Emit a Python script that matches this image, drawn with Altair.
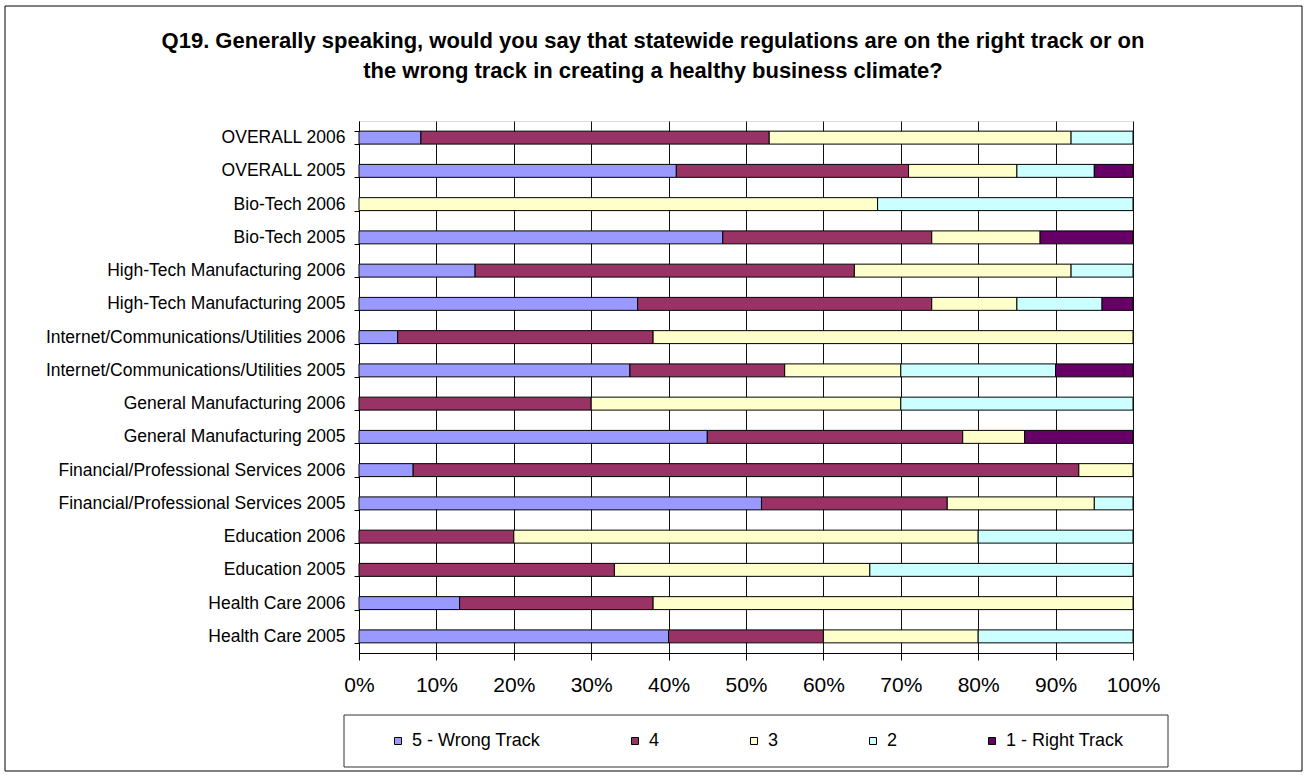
import altair as alt
import pandas as pd

categories = [
    "OVERALL 2006", "OVERALL 2005", "Bio-Tech 2006", "Bio-Tech 2005",
    "High-Tech Manufacturing 2006", "High-Tech Manufacturing 2005",
    "Internet/Communications/Utilities 2006", "Internet/Communications/Utilities 2005",
    "General Manufacturing 2006", "General Manufacturing 2005",
    "Financial/Professional Services 2006", "Financial/Professional Services 2005",
    "Education 2006", "Education 2005", "Health Care  2006", "Health Care 2005",
]
series_names = ["5 - Wrong Track", "4", "3", "2", "1 - Right Track"]
series_colors = ["#9999FF", "#993366", "#FFFFCC", "#CCFFFF", "#660066"]

wrong_track_5 = [8, 41, 0, 47, 15, 36, 5, 35, 0, 45, 7, 52, 0, 0, 13, 40]
rating_4 = [45, 30, 0, 27, 49, 38, 33, 20, 30, 33, 86, 24, 20, 33, 25, 20]
rating_3 = [39, 14, 67, 14, 28, 11, 62, 15, 40, 8, 7, 19, 60, 33, 62, 20]
rating_2 = [8, 10, 33, 0, 8, 11, 0, 20, 30, 0, 0, 5, 20, 34, 0, 20]
right_track_1 = [0, 5, 0, 12, 0, 4, 0, 10, 0, 14, 0, 0, 0, 0, 0, 0]

x_ticks = [0, 0.1, 0.2, 0.3, 0.4, 0.5, 0.6, 0.7, 0.8, 0.9, 1.0]
title_lines = [
    "Q19. Generally speaking, would you say that statewide regulations are on the right track or on",
    "the wrong track in creating a healthy business climate?",
]

FONT = "Liberation Sans"

rows = []
for idx, (name, vals) in enumerate(zip(series_names, [wrong_track_5, rating_4, rating_3, rating_2, right_track_1])):
    for cat, v in zip(categories, vals):
        rows.append({"category": cat, "series": name, "order": idx, "value": v / 100.0})
df = pd.DataFrame(rows)

bars = alt.Chart(df).transform_filter("datum.value > 0").mark_bar(
    stroke="black", strokeWidth=1
).encode(
    y=alt.Y(
        "category:N", sort=categories, title=None,
        scale=alt.Scale(paddingInner=0.61, paddingOuter=0.305),
        axis=alt.Axis(
            tickBand="extent", tickSize=5, labelPadding=9, labelFontSize=17.5,
            labelFont=FONT, labelColor="black", domainColor="black",
            tickColor="black", labelLimit=600, domainWidth=1,
        ),
    ),
    x=alt.X(
        "value:Q", stack="zero", title=None,
        scale=alt.Scale(domain=[0, 1], nice=False),
        axis=alt.Axis(
            format="%", values=x_ticks, grid=True, gridColor="#111111",
            gridWidth=1, tickSize=7, labelFontSize=21, labelFont=FONT,
            labelColor="black", labelPadding=14, labelFlush=False,
            labelOverlap=False, domainColor="black", tickColor="black",
        ),
    ),
    color=alt.Color(
        "series:N", title=None,
        scale=alt.Scale(domain=series_names, range=series_colors),
        legend=alt.Legend(
            orient="none", legendX=30, legendY=611, direction="horizontal",
            columns=5, gridAlign="each", columnPadding=85,
            symbolType="square", symbolSize=49, symbolStrokeColor="black",
            symbolStrokeWidth=1, labelFontSize=18, labelFont=FONT,
            labelColor="black", labelOffset=5, padding=0,
            labelExpr="datum.label == '5 - Wrong Track' ? datum.label + ' ' : datum.label",
        ),
    ),
    order=alt.Order("order:Q"),
)

frame = alt.Chart(alt.Data(values=[{}])).mark_rect(
    fillOpacity=0, stroke="black", strokeWidth=1
).encode(
    x=alt.value(-354), x2=alt.value(943), y=alt.value(-115), y2=alt.value(650)
)

legend_box = alt.Chart(alt.Data(values=[{}])).mark_rect(
    fill="white", stroke="#333333", strokeWidth=1
).encode(
    x=alt.value(-15), x2=alt.value(809), y=alt.value(594), y2=alt.value(646)
)

chart = alt.layer(frame, legend_box, bars).properties(
    width=774,
    height=532,
    padding={"left": 359, "top": 121, "right": 174, "bottom": 122},
    autosize=alt.AutoSizeParams(type="none"),
    title=alt.TitleParams(
        text=title_lines, fontSize=22, font=FONT, fontWeight="bold",
        anchor="middle", frame="group", dx=-93, dy=120, offset=43,
        lineHeight=30, color="black",
    ),
).configure_view(
    fill="#C0C0C0", stroke="transparent"
).configure(background="white")

chart.save("out.html", embed_options={"renderer": "svg", "actions": False})
